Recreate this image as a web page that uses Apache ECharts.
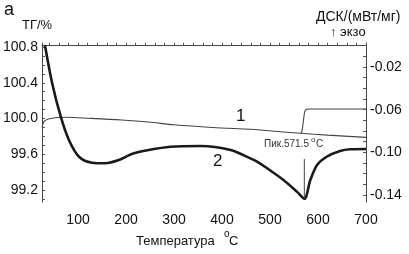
<!DOCTYPE html>
<html>
<head>
    <meta charset="utf-8">
    <title>ТГ-ДСК</title>
    <script src="https://cdn.jsdelivr.net/npm/echarts@6/dist/echarts.min.js"></script>
    <style>
        html, body { margin: 0; padding: 0; background: #fff; }
        #main { width: 409px; height: 254px; }
    </style>
</head>
<body>
<div id="main"></div>
<script>
    // --- данные, снятые с картинки
    // кривая 1 (ТГ, левая ось)
    var tgTemp = [25, 29, 40, 74, 123, 191, 247, 300, 380, 459, 480, 563, 620, 700];
    var tgVal = [99.90, 99.965, 99.998, 100.014, 100.003, 99.984, 99.961, 99.930, 99.90, 99.880, 99.872, 99.835, 99.815, 99.790];
    // ступенька после пика (левая ось)
    var stepTemp = [563, 566, 569, 572, 575, 580, 700];
    var stepVal = [99.835, 99.845, 99.95, 100.07, 100.10, 100.107, 100.107];
    // кривая 2 (ДСК, правая ось)
    var dscTemp = [31, 46, 64, 81, 102, 129, 157, 185, 212, 247, 293, 355, 418, 459, 473, 494, 528, 556, 571.5, 584, 598, 618, 646, 667, 700];
    var dscVal = [0.0006, -0.035, -0.0666, -0.0884, -0.1041, -0.1097, -0.1102, -0.1072, -0.1015, -0.0978, -0.0947, -0.0940, -0.0978, -0.1056, -0.1087, -0.1149, -0.1259, -0.1368, -0.1435, -0.1259, -0.1118, -0.1041, -0.0987, -0.0971, -0.0968];
    // отметка пика
    var peakTemp = [571.5, 571.5];
    var peakVal = [-0.1062, -0.1430];

    // подписи осей
    var xLabels = [100, 200, 300, 400, 500, 600, 700];
    var tgLabels = [99.2, 99.6, 100.0, 100.4, 100.8];
    var dscLabels = [-0.14, -0.10, -0.06, -0.02];

    function zip(a, b) {
        var r = [];
        for (var i = 0; i < a.length; i++) r.push([a[i], b[i]]);
        return r;
    }
    function steps(from, to, step) {
        var r = [];
        for (var v = from; v <= to + 1e-9; v += step) r.push(Math.round(v * 1000) / 1000);
        return r;
    }

    var font = '"Liberation Sans", Arial, sans-serif';
    var myChart = echarts.init(document.getElementById('main'));

    var option = {
        animation: false,
        backgroundColor: '#fff',
        grid: { left: 41, right: 43, top: 43, bottom: 52 },
        xAxis: {
            type: 'value',
            min: 25,
            max: 700,
            axisLine: { show: true, lineStyle: { color: '#444', width: 1 } },
            axisTick: { inside: true, length: 3, lineStyle: { color: '#555' }, customValues: steps(40, 700, 20) },
            axisLabel: {
                customValues: xLabels, color: '#111', fontSize: 14, fontFamily: font, margin: 11,
                formatter: function (v) { return String(v); }
            },
            splitLine: { show: false }
        },
        yAxis: [
            {
                type: 'value',
                min: 99.067,
                max: 100.845,
                axisLine: { show: true, lineStyle: { color: '#444', width: 1 } },
                axisTick: { show: true, inside: true, length: 3, lineStyle: { color: '#555' }, customValues: steps(99.1, 100.8, 0.1) },
                axisLabel: {
                    customValues: tgLabels, color: '#111', fontSize: 14, fontFamily: font, margin: 4,
                    formatter: function (v) { return v.toFixed(1); }
                },
                splitLine: { show: false }
            },
            {
                type: 'value',
                min: -0.1465,
                max: 0.0025,
                position: 'right',
                axisLine: { show: true, lineStyle: { color: '#444', width: 1 } },
                axisTick: { show: true, inside: true, length: 3, lineStyle: { color: '#555' }, customValues: steps(-0.14, 0, 0.01) },
                axisLabel: {
                    customValues: dscLabels, color: '#111', fontSize: 14, fontFamily: font, margin: 4,
                    formatter: function (v) { return v.toFixed(2); }
                },
                splitLine: { show: false }
            }
        ],
        series: [
            {
                name: '1', type: 'line', yAxisIndex: 0, smooth: 0.3, symbol: 'none',
                lineStyle: { color: '#444', width: 1.1 },
                data: zip(tgTemp, tgVal)
            },
            {
                name: 'step', type: 'line', yAxisIndex: 0, smooth: 0.2, symbol: 'none',
                lineStyle: { color: '#444', width: 1.1 },
                data: zip(stepTemp, stepVal)
            },
            {
                name: '2', type: 'line', yAxisIndex: 1, smooth: 0.3, symbol: 'none',
                lineStyle: { color: '#1a1a1a', width: 2.6 },
                data: zip(dscTemp, dscVal)
            },
            {
                name: 'peak', type: 'line', yAxisIndex: 1, symbol: 'none',
                lineStyle: { color: '#444', width: 1 },
                data: zip(peakTemp, peakVal)
            }
        ],
        graphic: [
            { type: 'text', left: 4, top: 1, style: { text: 'a', fill: '#111', font: '18px ' + font } },
            { type: 'text', left: 22, top: 19, style: { text: 'ТГ/%', fill: '#111', font: '13px ' + font } },
            { type: 'text', left: 316, top: 10, style: { text: 'ДСК/(мВт/мг)', fill: '#111', font: '14px ' + font } },
            { type: 'text', left: 330, top: 26, style: { text: '↑ экзо', fill: '#111', font: '13px ' + font } },
            { type: 'text', left: 236, top: 108, style: { text: '1', fill: '#111', font: '17px ' + font } },
            { type: 'text', left: 213, top: 153, style: { text: '2', fill: '#111', font: '17px ' + font } },
            { type: 'text', left: 264, top: 139, style: { text: 'Пик.571.5', fill: '#333', font: '10px ' + font } },
            { type: 'text', left: 311, top: 136, style: { text: 'o', fill: '#333', font: '8px ' + font } },
            { type: 'text', left: 316, top: 139, style: { text: 'C', fill: '#333', font: '10px ' + font } },
            { type: 'text', left: 136, top: 235, style: { text: 'Температура', fill: '#111', font: '13px ' + font } },
            { type: 'text', left: 224, top: 229, style: { text: 'o', fill: '#111', font: '10px ' + font } },
            { type: 'text', left: 229, top: 235, style: { text: 'C', fill: '#111', font: '13px ' + font } }
        ]
    };

    myChart.setOption(option);
</script>
</body>
</html>
